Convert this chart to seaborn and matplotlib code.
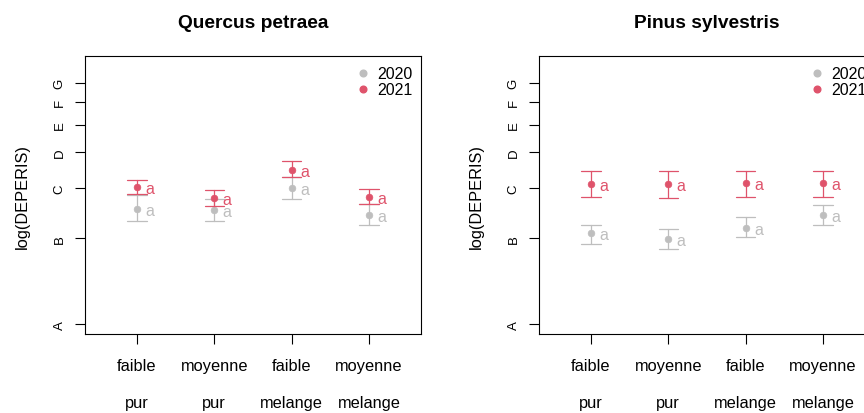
import numpy as np
import pandas as pd
import matplotlib
matplotlib.use("Agg")
import matplotlib.pyplot as plt
import seaborn as sns
from matplotlib.lines import Line2D
from matplotlib.ticker import NullLocator, FixedLocator
from matplotlib.transforms import blended_transform_factory

# ---------------- data ----------------
species = ["Quercus petraea", "Pinus sylvestris"]
years = ["2020", "2021"]
densite = ["faible", "moyenne", "faible", "moyenne"]
composition = ["pur", "pur", "melange", "melange"]
y_tick_values = [1, 2, 3, 4, 5, 6, 7]
y_tick_labels = ["A", "B", "C", "D", "E", "F", "G"]
group_letters_2020 = ["a", "a", "a", "a"]
group_letters_2021 = ["a", "a", "a", "a"]

quercus_2020_mean = [2.53, 2.51, 3.00, 2.42]
quercus_2020_low = [2.30, 2.30, 2.74, 2.22]
quercus_2020_high = [2.84, 2.75, 3.28, 2.64]
quercus_2021_mean = [3.03, 2.77, 3.47, 2.79]
quercus_2021_low = [2.86, 2.60, 3.27, 2.63]
quercus_2021_high = [3.20, 2.96, 3.72, 2.98]

pinus_2020_mean = [2.08, 1.99, 2.18, 2.41]
pinus_2020_low = [1.91, 1.84, 2.03, 2.23]
pinus_2020_high = [2.23, 2.15, 2.37, 2.61]
pinus_2021_mean = [3.09, 3.09, 3.12, 3.12]
pinus_2021_low = [2.79, 2.77, 2.79, 2.79]
pinus_2021_high = [3.43, 3.43, 3.43, 3.43]

palette = {"2020": "#BEBEBE", "2021": "#DF536B"}

series = {
    ("Quercus petraea", "2020"): (quercus_2020_low, quercus_2020_mean, quercus_2020_high),
    ("Quercus petraea", "2021"): (quercus_2021_low, quercus_2021_mean, quercus_2021_high),
    ("Pinus sylvestris", "2020"): (pinus_2020_low, pinus_2020_mean, pinus_2020_high),
    ("Pinus sylvestris", "2021"): (pinus_2021_low, pinus_2021_mean, pinus_2021_high),
}
letters = {"2020": group_letters_2020, "2021": group_letters_2021}

groups = [f"{d}.{c}" for d, c in zip(densite, composition)]
rows = []
for (sp, yr), (lo, mid, hi) in series.items():
    for g, a, b, c in zip(groups, lo, mid, hi):
        for v in (a, b, c):
            rows.append({"species": sp, "year": yr, "group": g, "val": v})
df = pd.DataFrame(rows)

# ---------------- style ----------------
sns.set_style("white")
plt.rcParams["font.family"] = ["Liberation Sans", "DejaVu Sans"]
plt.rcParams["axes.edgecolor"] = "black"
plt.rcParams["axes.linewidth"] = 0.8
plt.rcParams["text.color"] = "black"
plt.rcParams["axes.labelcolor"] = "black"
plt.rcParams["xtick.color"] = "black"
plt.rcParams["ytick.color"] = "black"
plt.rcParams["axes.titlecolor"] = "black"

W, H = 864, 414
fig = plt.figure(figsize=(W / 100, H / 100), dpi=100)

ax_left_px = [85, 539]
ax_w_px, ax_top_px, ax_bot_px = 336, 57.3, 335

for k, sp in enumerate(species):
    x0 = ax_left_px[k]
    ax = fig.add_axes([x0 / W, (H - ax_bot_px) / H, ax_w_px / W, (ax_bot_px - ax_top_px) / H])
    sub = df[df["species"] == sp]
    sns.pointplot(
        data=sub, x="group", y="val", hue="year", order=groups, hue_order=years,
        palette=palette, estimator="median",
        errorbar=lambda v: (np.min(v), np.max(v)),
        capsize=0.25, linestyle="none", markers="o", markersize=4.8,
        markeredgewidth=0.5,
        err_kws={"linewidth": 0.9}, dodge=False, log_scale=True,
        legend=False, ax=ax,
    )
    # "a" letters
    for yr in years:
        mids = series[(sp, yr)][1]
        for i, (m, lt) in enumerate(zip(mids, letters[yr])):
            ax.text(i + 0.11, m, lt, color=palette[yr], fontsize=11.5,
                    ha="left", va="center_baseline")

    ax.set_xlim(-0.67, 3.67)
    ax.set_ylim(0.925, 8.68)
    ax.yaxis.set_major_locator(FixedLocator(y_tick_values))
    ax.set_yticklabels(y_tick_labels, rotation=90, va="center", fontsize=9.5)
    ax.yaxis.set_minor_locator(NullLocator())
    ax.set_xticks(range(len(groups)))
    ax.set_xticklabels(densite, fontsize=11.8)
    ax.tick_params(axis="both", direction="out", length=7, width=0.8, color="black",
                   left=True, bottom=True)
    ax.tick_params(axis="y", pad=7)
    ax.tick_params(axis="x", pad=10)
    trans = blended_transform_factory(ax.transData, ax.transAxes)
    for i, c in enumerate(composition):
        ax.text(i, -(404 - ax_bot_px) / (ax_bot_px - ax_top_px), c, transform=trans,
                ha="center", va="center", fontsize=11.8)
    ax.set_xlabel("")
    ax.set_ylabel("")
    fig.text((x0 - 63) / W, 1 - 197 / H, "log(DEPERIS)", rotation=90,
             ha="center", va="center", fontsize=11.8)
    ax.set_title(sp, fontsize=13.8, fontweight="bold", pad=21)
    for s in ax.spines.values():
        s.set_visible(True)
        s.set_color("black")
        s.set_linewidth(0.8)

    handles = [Line2D([], [], marker="o", linestyle="none", color=palette[yr],
                      markersize=4.8) for yr in years]
    ax.legend(handles, years, loc="upper right",
              bbox_to_anchor=(1 - 8 / ax_w_px, 1 - 10 / (ax_bot_px - ax_top_px)),
              frameon=False, fontsize=11.5, borderpad=0, borderaxespad=0,
              labelspacing=0.05, handlelength=0.8, handletextpad=0.5)

fig.savefig("out.png", dpi=100)
